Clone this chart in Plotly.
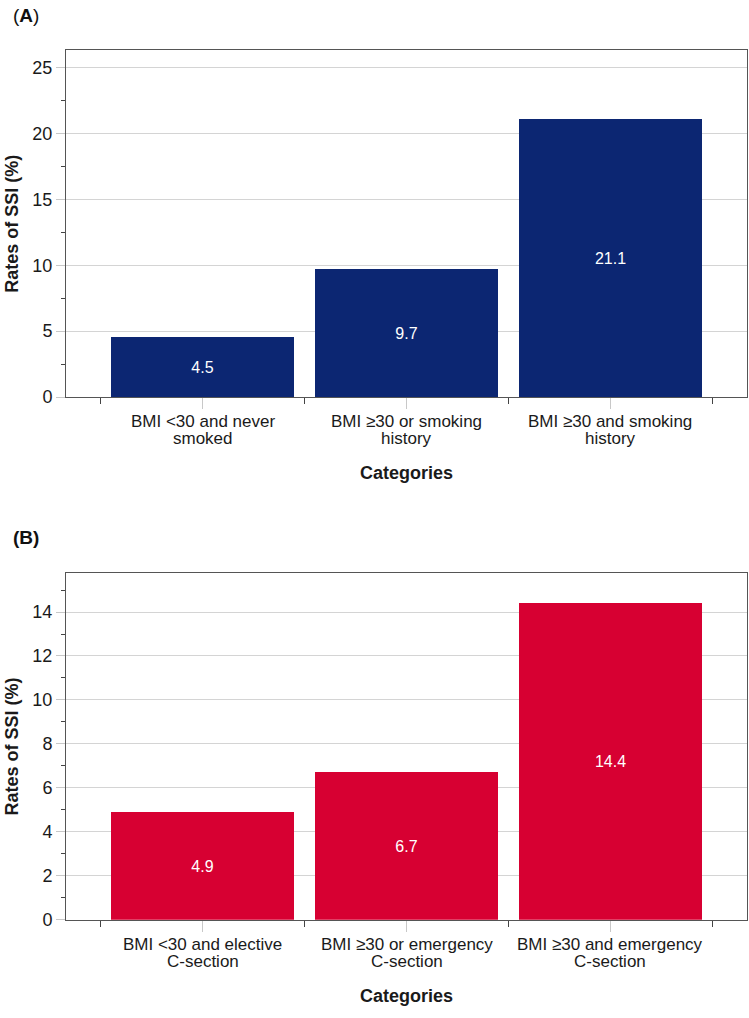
import plotly.graph_objects as go

# ---- data ----
cats_a = ["BMI <30 and never<br>smoked", "BMI \u226530 or smoking<br>history", "BMI \u226530 and smoking<br>history"]
vals_a = [4.5, 9.7, 21.1]
cats_b = ["BMI <30 and elective<br>C-section", "BMI \u226530 or emergency<br>C-section", "BMI \u226530 and emergency<br>C-section"]
vals_b = [4.9, 6.7, 14.4]
yticks_a = [0, 5, 10, 15, 20, 25]
yticks_b = [0, 2, 4, 6, 8, 10, 12, 14]

W, H = 749, 1018
L, R = 66, 2
PW = W - L - R

def py(y):  # pixel y -> paper y
    return 1 - y / H

def px(x):  # pixel x -> paper x
    return (x - L) / PW

FONT = "Liberation Sans, Arial, sans-serif"
NAVY = "#0c2672"
RED = "#d70032"
TXT = "#1a1a1a"

xpos = list(range(len(cats_a)))

fig = go.Figure()
for vals, color, xa, ya in [(vals_a, NAVY, "x", "y"), (vals_b, RED, "x2", "y2")]:
    fig.add_trace(go.Bar(x=xpos, y=vals, width=0.9, marker=dict(color=color, line=dict(width=0)),
                         text=[f"{v:.1f}" for v in vals], textposition="inside", insidetextanchor="middle",
                         textangle=0, textfont=dict(color="white", size=16, family=FONT),
                         xaxis=xa, yaxis=ya, showlegend=False, hoverinfo="x+y"))

xcommon = dict(range=[-0.67, 2.67], tickmode="array", tickvals=xpos, showticklabels=False,
               ticks="outside", ticklen=11, tickcolor="#c8c8c8", tickwidth=1,
               minor=dict(tick0=-0.5, dtick=1, ticks="outside", ticklen=6, tickcolor="#444", tickwidth=1),
               showline=True, linecolor="#555", linewidth=1, mirror=True, showgrid=False, zeroline=False)
ycommon = dict(ticks="outside", ticklen=9, tickcolor="#c8c8c8", tickwidth=1,
               showline=True, linecolor="#555", linewidth=1, mirror=True,
               showgrid=True, gridcolor="#d4d4d4", gridwidth=1, zeroline=False,
               tickfont=dict(size=18, family=FONT, color=TXT))

annotations = []
panels = [("(<b>A</b>)", 16, cats_a, 51, 401), ("<b>(B)</b>", 543, cats_b, 579, 929)]
for i, (lab, ly, cats, top, bot) in enumerate(panels):
    xref = "x" if i == 0 else "x2"
    annotations.append(dict(text=lab, x=px(11), y=py(ly), xref="paper", yref="paper",
                            xanchor="left", yanchor="middle", showarrow=False,
                            font=dict(size=19, family=FONT, color="#111")))
    # category labels (two lines each)
    for j, c in enumerate(cats):
        for k, line in enumerate(c.split("<br>")):
            annotations.append(dict(text=line, x=xpos[j], y=py(bot + 25 + 17 * k), xref=xref, yref="paper",
                                    xanchor="center", yanchor="middle", showarrow=False,
                                    font=dict(size=17, family=FONT, color=TXT)))
    annotations.append(dict(text="<b>Categories</b>", x=0.5, y=py(bot + 77), xref="paper", yref="paper",
                            xanchor="center", yanchor="middle", showarrow=False,
                            font=dict(size=18, family=FONT, color=TXT)))
    annotations.append(dict(text="<b>Rates of SSI (%)</b>", x=px(12), y=py((top + bot) / 2), xref="paper", yref="paper",
                            xanchor="center", yanchor="middle", textangle=-90, showarrow=False,
                            font=dict(size=18, family=FONT, color=TXT)))

fig.update_layout(
    width=W, height=H, margin=dict(l=L, r=R, t=0, b=0),
    paper_bgcolor="white", plot_bgcolor="white", bargap=0,
    xaxis=dict(xcommon, domain=[0, 1], anchor="y"),
    yaxis=dict(ycommon, domain=[py(401), py(51)], anchor="x", range=[0, 26.3],
               tickmode="array", tickvals=yticks_a,
               minor=dict(tick0=0, dtick=2.5, ticks="outside", ticklen=4, tickcolor="#444", tickwidth=1)),
    xaxis2=dict(xcommon, domain=[0, 1], anchor="y2"),
    yaxis2=dict(ycommon, domain=[py(929), py(579)], anchor="x2", range=[0, 15.76],
                tickmode="array", tickvals=yticks_b,
                minor=dict(tick0=0, dtick=1, ticks="outside", ticklen=4, tickcolor="#444", tickwidth=1)),
    annotations=annotations,
)

fig.write_html(
    "out.html",
    config={"displayModeBar": False},
    post_script=(
        "var de=document.documentElement, b=document.body;"
        "de.style.margin='0';de.style.padding='0';de.style.overflow='hidden';de.style.height='1018px';"
        "b.style.margin='0';b.style.padding='0';b.style.overflow='hidden';b.style.height='1018px';"
    ),
)
